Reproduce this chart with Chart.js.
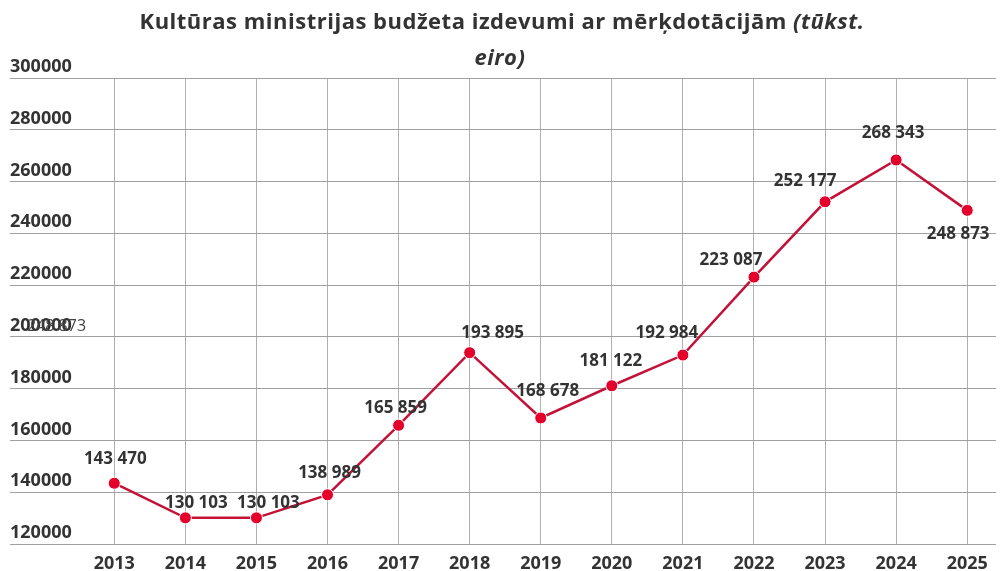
<!DOCTYPE html>
<html>
<head>
<meta charset="utf-8">
<script src="https://cdn.jsdelivr.net/npm/chart.js@4/dist/chart.umd.min.js"></script>
<style>
  html, body { margin: 0; padding: 0; background: #fff; }
  #wrap { position: relative; width: 1003px; height: 571px; }
</style>
</head>
<body>
<div id="wrap"><canvas id="myChart"></canvas></div>
<script>
// data
const years = [2013, 2014, 2015, 2016, 2017, 2018, 2019, 2020, 2021, 2022, 2023, 2024, 2025];
const budget = [143470, 130103, 130103, 138989, 165859, 193895, 168678, 181122, 192984, 223087, 252177, 268343, 248873];
const yTicks = [120000, 140000, 160000, 180000, 200000, 220000, 240000, 260000, 280000, 300000];

// label nudges [dx, dy] from each point
const labelNudge = [[1, -24], [11, -15], [12, -15], [2, -22], [-3, -17], [23, -20], [7, -27],
    [-1, -25], [-16, -22], [-23, -17], [-20, -21], [-3, -27], [-9, 24]];

const FONT = "'Open Sans', sans-serif";
const TXT = "#333333";

const fmt = (v) => String(v).replace(/\B(?=(\d{3})+(?!\d))/g, " ");

const titlePlugin = {
    id: "mixedTitle",
    afterDraw(chart) {
        const c = chart.ctx;
        const part1 = "Kultūras ministrijas budžeta izdevumi ar mērķdotācijām ";
        const part2 = "(tūkst.";
        const fB = "bold 22px " + FONT;
        const fI = "italic bold 22px " + FONT;
        c.save();
        c.fillStyle = TXT;
        c.textBaseline = "alphabetic";
        c.textAlign = "left";
        c.letterSpacing = "0.5px";
        c.font = fB;
        const w1 = c.measureText(part1).width;
        c.font = fI;
        const w2 = c.measureText(part2).width;
        let x = 502 - (w1 + w2) / 2;
        c.font = fB;
        c.fillText(part1, x, 29);
        c.font = fI;
        c.fillText(part2, x + w1, 29);
        c.textAlign = "center";
        c.fillText("eiro)", 500, 65);
        c.restore();
    },
};

const labelPlugin = {
    id: "pointLabels",
    afterDatasetsDraw(chart) {
        const c = chart.ctx;
        const meta = chart.getDatasetMeta(0);
        c.save();
        c.fillStyle = TXT;
        c.textAlign = "center";
        c.textBaseline = "middle";
        c.font = "bold 17px " + FONT;
        meta.data.forEach((pt, i) => {
            const n = labelNudge[i] || [0, -22];
            c.fillText(fmt(budget[i]), pt.x + n[0], pt.y + n[1]);
        });
        // stray label sitting over the 200000 tick
        c.font = "16px " + FONT;
        c.fillStyle = "#444";
        c.textAlign = "left";
        c.fillText(fmt(budget[budget.length - 1]), 27, 326);
        c.restore();
    },
};

const ctx = document.getElementById("myChart");

const chart = new Chart(ctx, {
    type: "line",
    data: {
        datasets: [
            {
                label: "Izdevumi",
                data: years.map((y, i) => ({ x: y, y: budget[i] })),
                borderColor: "#c31238",
                borderWidth: 2.5,
                backgroundColor: "#e4002b",
                pointBackgroundColor: "#e4002b",
                pointBorderColor: "#ffffff",
                pointBorderWidth: 1,
                pointRadius: 6,
                tension: 0,
            },
        ],
    },
    plugins: [titlePlugin, labelPlugin],
    options: {
        responsive: true,
        maintainAspectRatio: false,
        animation: false,
        layout: {
            padding: { top: 78, left: 10, right: 0, bottom: 0 },
        },
        plugins: {
            legend: { display: false },
            title: { display: false },
            tooltip: { enabled: false },
        },
        scales: {
            x: {
                type: "linear",
                min: 2011.533,
                max: 2025.405,
                afterBuildTicks: (axis) => {
                    axis.ticks = years.map((y) => ({ value: y }));
                },
                afterFit: (axis) => {
                    axis.height = 27;
                },
                grid: {
                    color: "#b0b0b0",
                    lineWidth: 1,
                    drawTicks: false,
                },
                border: { display: false },
                ticks: {
                    padding: 9,
                    color: TXT,
                    font: { family: FONT, size: 18, weight: "bold" },
                    callback: (v) => String(v),
                    maxRotation: 0,
                    autoSkip: false,
                },
            },
            y: {
                min: 120000,
                max: 300000,
                afterBuildTicks: (axis) => {
                    axis.ticks = yTicks.map((v) => ({ value: v }));
                },
                grid: {
                    color: "#a0a0a0",
                    lineWidth: 1,
                    drawTicks: false,
                },
                border: { display: false },
                ticks: {
                    mirror: true,
                    padding: 0,
                    labelOffset: -11,
                    color: TXT,
                    font: { family: FONT, size: 18, weight: "bold" },
                    callback: (v) => String(v),
                },
            },
        },
    },
});
</script>
</body>
</html>
